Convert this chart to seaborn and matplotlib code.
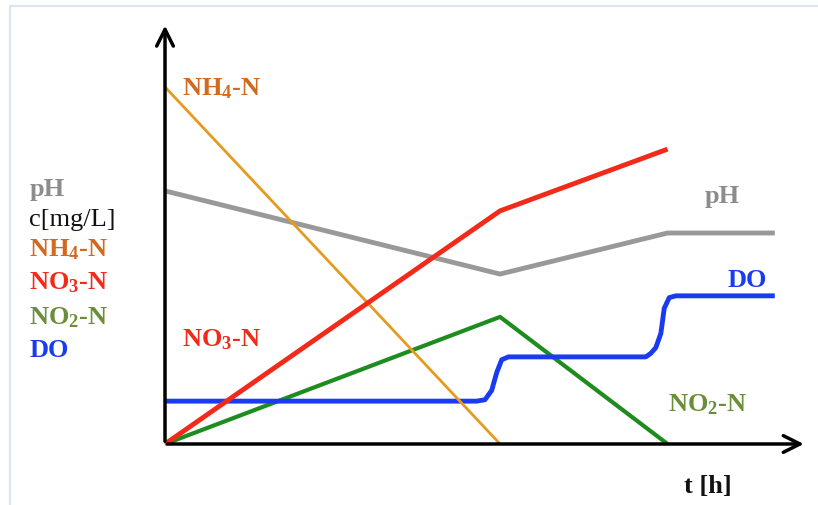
import matplotlib.pyplot as plt
import seaborn as sns
import pandas as pd

# schematic values: time t [h] and concentration-like units
nh4_t = [0, 10]
nh4_c = [100, 0]

no3_t = [0, 10, 15]
no3_c = [0, 65.3, 82.6]

no2_t = [0, 10, 15]
no2_c = [0, 35.6, 0]

ph_t = [0, 10, 15, 18.2]
ph_c = [70.9, 47.6, 59.1, 59.1]

do_t = [0, 9.3, 9.55, 9.75, 9.9, 10.05, 10.25, 14.35, 14.5, 14.65, 14.8, 14.9, 15.05, 15.25, 18.2]
do_c = [12, 12, 12.4, 15, 20, 23.6, 24.4, 24.4, 25.4, 27, 31, 38, 41.0, 41.5, 41.5]

side_labels = ["pH", "c[mg/L]", r"NH$_4$-N", r"NO$_3$-N", r"NO$_2$-N", "DO"]
side_colors = ["#8c8c8c", "#111111", "#d2691e", "#f22a1a", "#6b8e3a", "#1a3cf0"]

sns.set_theme(style="white")
plt.rcParams["font.family"] = ["Liberation Serif", "DejaVu Serif"]
plt.rcParams["mathtext.fontset"] = "custom"
plt.rcParams["mathtext.rm"] = "Liberation Serif:bold"
plt.rcParams["mathtext.bf"] = "Liberation Serif:bold"
plt.rcParams["mathtext.default"] = "bf"

fig = plt.figure(figsize=(8.18, 5.06), dpi=100)
ax = fig.add_axes([0, 0, 1, 1])
ax.set_xlim(-4.925, 19.49)
ax.set_ylim(-17.09, 124.65)
ax.axis("off")

def draw(t, c, color, lw):
    df = pd.DataFrame({"t": t, "c": c})
    sns.lineplot(data=df, x="t", y="c", color=color, linewidth=lw,
                 sort=False, estimator=None, ax=ax, solid_capstyle="butt")

draw(ph_t, ph_c, "#999999", 3.5)
draw(no2_t, no2_c, "#1e8c1e", 3)
draw(do_t, do_c, "#1a3cf0", 3.5)
draw(nh4_t, nh4_c, "#e69a1f", 2)
draw(no3_t, no3_c, "#f22a1a", 3.5)

# axes with arrows
ax.annotate("", xy=(19.15, 0), xytext=(0, 0),
            arrowprops=dict(arrowstyle="->,head_length=1.0,head_width=0.5", lw=2.5, color="black"))
ax.annotate("", xy=(0, 118), xytext=(0, 0),
            arrowprops=dict(arrowstyle="->,head_length=1.0,head_width=0.5", lw=2.5, color="black"))

fs = 19
# left legend-like labels
ys = [71.7, 63, 54.6, 45.4, 35.6, 26.6]
for lab, col, y in zip(side_labels, side_colors, ys):
    w = "normal" if lab == "c[mg/L]" else "bold"
    ax.text(-4.05, y, lab, color=col, fontsize=fs, fontweight=w, va="center", ha="left")

ax.text(0.5, 99.7, r"NH$_4$-N", color="#d2691e", fontsize=fs, fontweight="bold", va="center")
ax.text(0.5, 29.4, r"NO$_3$-N", color="#f22a1a", fontsize=fs, fontweight="bold", va="center")
ax.text(15.0, 11.2, r"NO$_2$-N", color="#6b8e3a", fontsize=fs, fontweight="bold", va="center")
ax.text(16.1, 69.5, "pH", color="#8c8c8c", fontsize=fs, fontweight="bold", va="center")
ax.text(16.8, 46.2, "DO", color="#1a3cf0", fontsize=fs, fontweight="bold", va="center")
ax.text(15.5, -11.6, "t [h]", color="#111111", fontsize=fs, fontweight="bold", va="center")

# thin frame lines of the slide
fig.add_artist(plt.Line2D([10 / 818, 10 / 818], [0, 1 - 7 / 506], color="#dce4f2", lw=1.5))
fig.add_artist(plt.Line2D([10 / 818, 1], [1 - 7 / 506, 1 - 7 / 506], color="#dce4f2", lw=1.5))

fig.savefig("out.png", dpi=100)
